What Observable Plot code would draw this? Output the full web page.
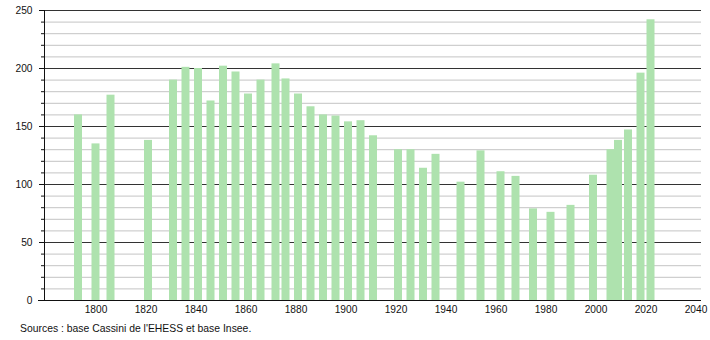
<!DOCTYPE html>
<html>
<head>
<meta charset="utf-8">
<script src="https://cdn.jsdelivr.net/npm/d3@7"></script>
<script src="https://cdn.jsdelivr.net/npm/@observablehq/plot@0.6"></script>
<style>
  body { margin: 0; background: #fff; font-family: "Liberation Sans", Arial, sans-serif; }
  #caption { font-size: 10.4px; color: #111; margin: 5px 0 0 20px; line-height: 12px; }
</style>
</head>
<body>
<div id="chart"></div>
<div id="caption">Sources : base Cassini de l'EHESS et base Insee.</div>
<script>
const years = [1793,1800,1806,1821,1831,1836,1841,1846,1851,1856,1861,1866,1872,1876,1881,1886,1891,1896,1901,1906,1911,1921,1926,1931,1936,1946,1954,1962,1968,1975,1982,1990,1999,2006,2009,2013,2018,2022];
const population = [160,135,177,138,190,201,200,172,202,197,178,190,204,191,178,167,160,159,154,155,142,130,130,114,126,102,129,111,107,79,76,82,108,130,138,147,196,242];
const xTickLabels = [1800,1820,1840,1860,1880,1900,1920,1940,1960,1980,2000,2020,2040];
const yMajorTicks = [0,50,100,150,200,250];
const yMinorTicks = d3.range(0, 251, 10).filter(v => v % 50 !== 0);

const data = years.map((year, i) => ({year, pop: population[i]}));
const halfBar = 1.6; // half bar width in years

const chart = Plot.plot({
  width: 710,
  height: 318,
  marginLeft: 44,
  marginRight: 9,
  marginTop: 10,
  marginBottom: 18,
  style: {fontFamily: "'Liberation Sans', Arial, sans-serif", fontSize: "10.2px", color: "#111", background: "#fff"},
  x: {domain: [1779.4, 2042.2], label: null},
  y: {domain: [0, 250], label: null},
  marks: [
    Plot.ruleY(yMinorTicks, {stroke: "#c4c4c4", strokeWidth: 1}),
    Plot.ruleY(yMajorTicks.filter(v => v !== 0), {stroke: "#333", strokeWidth: 1}),
    Plot.rectY(data, {x1: d => d.year - halfBar, x2: d => d.year + halfBar, y1: 0, y2: "pop", fill: "#aee2ae"}),
    Plot.ruleY([0], {stroke: "#111", strokeWidth: 1.2, insetLeft: -6}),
    Plot.frame({anchor: "left", stroke: "#111"}),
    Plot.axisY(yMinorTicks, {tickSize: 3, tickFormat: () => "", stroke: "#111", label: null}),
    Plot.axisY(yMajorTicks, {tickSize: 5, tickPadding: 7, stroke: "#111", fill: "#111", label: null}),
    Plot.axisX(xTickLabels, {tickSize: 0, tickPadding: 5, tickFormat: d => String(d), fill: "#111", label: null})
  ]
});
document.getElementById("chart").appendChild(chart);
</script>
</body>
</html>
